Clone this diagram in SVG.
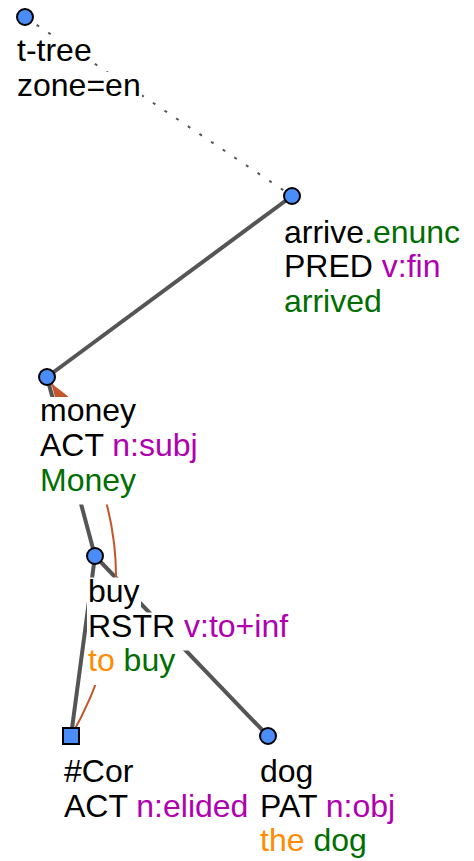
<svg xmlns="http://www.w3.org/2000/svg" width="474" height="861" viewBox="0 0 474 861">
<style>
text{font-family:"Liberation Sans",Arial,sans-serif;font-size:32px;fill:#000}
.bg{fill:#fff}
.edge{stroke:#555;stroke-width:4;fill:none}
.dot{stroke:#555;stroke-width:2;fill:none;stroke-dasharray:3 11}
.coref{stroke:#c4552d;stroke-width:2;fill:none}
.nd{fill:#4a8cf8;stroke:#000;stroke-width:2}
.g{fill:#006e00}
.p{fill:#b000b0}
.o{fill:#ff8c00}
</style>
<defs>
<marker id="arr" markerUnits="userSpaceOnUse" markerWidth="20" markerHeight="14" viewBox="0 0 20 14" refX="20" refY="7" orient="auto">
<path d="M0,0 L20,7 L0,14 z" fill="#c4552d"/>
</marker>
</defs>
<g id="connectors">
<line class="dot" x1="25" y1="17" x2="292" y2="196"/>
<line class="edge" x1="292" y1="196" x2="47" y2="377"/>
<line class="edge" x1="47" y1="377" x2="95" y2="556"/>
<line class="edge" x1="95" y1="556" x2="268" y2="736"/>
<line class="edge" x1="95" y1="556" x2="71" y2="736"/>
<path class="coref" d="M71,736 Q170,563 51.5,383.6" marker-end="url(#arr)"/>
</g>
<g id="root">
<circle class="nd" cx="25" cy="17" r="8"/>
<rect class="bg" x="16" y="37" width="76" height="38"/>
<rect class="bg" x="16" y="72" width="126" height="38"/>
<text x="17" y="61">t-tree</text>
<text x="17" y="96">zone=en</text>
</g>
<g id="arrive">
<circle class="nd" cx="292" cy="196" r="8"/>
<rect class="bg" x="283" y="218.5" width="179" height="38"/>
<rect class="bg" x="283" y="253" width="159" height="38"/>
<rect class="bg" x="283" y="287.5" width="100" height="38"/>
<text x="284" y="242.5">arrive<tspan class="g">.enunc</tspan></text>
<text x="284" y="277">PRED <tspan class="p">v:fin</tspan></text>
<text x="284" y="311.5" class="g">arrived</text>
</g>
<g id="money">
<circle class="nd" cx="47" cy="377" r="8"/>
<rect class="bg" x="39" y="397" width="98" height="38"/>
<rect class="bg" x="39" y="432" width="161" height="38"/>
<rect class="bg" x="39" y="466.5" width="98" height="38"/>
<text x="40" y="421">money</text>
<text x="40" y="456">ACT <tspan class="p">n:subj</tspan></text>
<text x="40" y="490.5" class="g">Money</text>
</g>
<g id="buy">
<circle class="nd" cx="95" cy="556" r="8"/>
<rect class="bg" x="87" y="577.5" width="54" height="38"/>
<rect class="bg" x="87" y="612.5" width="203" height="38"/>
<rect class="bg" x="87" y="647" width="90" height="38"/>
<text x="88" y="601.5">buy</text>
<text x="88" y="636.5">RSTR <tspan class="p">v:to+inf</tspan></text>
<text x="88" y="671"><tspan class="o">to</tspan> <tspan class="g">buy</tspan></text>
</g>
<g id="cor">
<rect class="nd" x="63" y="728" width="16" height="16"/>
<rect class="bg" x="63" y="757.5" width="72" height="38"/>
<rect class="bg" x="63" y="792.5" width="188" height="38"/>
<text x="64" y="781.5">#Cor</text>
<text x="64" y="816.5">ACT <tspan class="p">n:elided</tspan></text>
</g>
<g id="dog">
<circle class="nd" cx="268" cy="736" r="8"/>
<rect class="bg" x="259" y="757.5" width="56" height="38"/>
<rect class="bg" x="259" y="792.5" width="143" height="38"/>
<rect class="bg" x="259" y="827" width="109" height="34"/>
<text x="260" y="781.5">dog</text>
<text x="260" y="816.5">PAT <tspan class="p">n:obj</tspan></text>
<text x="260" y="851"><tspan class="o">the</tspan> <tspan class="g">dog</tspan></text>
</g>
</svg>
